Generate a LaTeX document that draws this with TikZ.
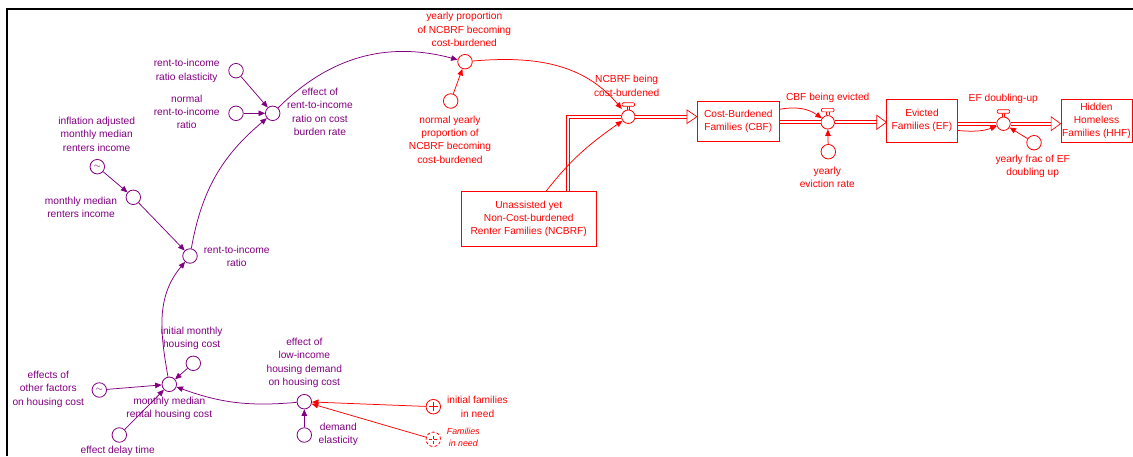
\documentclass[tikz,border=0pt]{standalone}
\usepackage{fontspec}
\setmainfont{Liberation Sans}
\usetikzlibrary{arrows.meta}
\definecolor{vpurple}{RGB}{128,0,128}
\definecolor{vred}{RGB}{255,0,0}

\begin{document}
\begin{tikzpicture}[x=1pt,y=1pt,
  font=\fontsize{10.2}{13.3}\selectfont,
  aux/.style={circle,draw,fill=white,minimum size=14.5pt,inner sep=0pt,line width=0.8pt},
  lookup/.style={aux},
  plusaux/.style={aux,path picture={
      \draw[line width=0.8pt] ([xshift=-4.5pt]path picture bounding box.center) -- ([xshift=4.5pt]path picture bounding box.center);
      \draw[line width=0.8pt] ([yshift=-4.5pt]path picture bounding box.center) -- ([yshift=4.5pt]path picture bounding box.center);}},
  ghost/.style={plusaux,densely dashed},
  valve/.style={circle,draw=vred,fill=white,minimum size=13.5pt,inner sep=0pt,line width=0.8pt},
  stock/.style={rectangle,draw=vred,text=vred,align=center,inner sep=1pt,line width=0.8pt},
  lbl/.style={align=center,inner sep=0pt},
  link/.style={line width=0.75pt,-{Triangle[length=6.5pt,width=5.5pt]}},
  pipe/.style={draw=white,line width=2.2pt,preaction={draw=vred,line width=3.8pt}},
  pipehead/.style={draw=vred,fill=white,line width=0.7pt,line join=miter},
]
\useasboundingbox (0,0) rectangle (1133,-456);

% frame
\draw[line width=2pt] (7,-456) -- (7,-9) -- (1133,-9);

% ---------------- stocks ----------------
\node[stock,minimum width=135.3pt,minimum height=54.6pt] (ncbrf) at (528.7,-219)
  {Unassisted yet\\Non-Cost-burdened\\Renter Families (NCBRF)};
\node[stock,minimum width=82pt,minimum height=39.3pt] (cbf) at (738.3,-121.3)
  {Cost-Burdened\\Families (CBF)};
\node[stock,minimum width=70.6pt,minimum height=42.7pt] (ef) at (922,-120.7)
  {Evicted\\Families (EF)};
\node[stock,minimum width=71pt,minimum height=43.4pt,inner sep=0pt] (hhf) at (1096.5,-121)
  {Hidden\\Homeless\\Families (HHF)};

% ---------------- valves ----------------
\node[valve] (v1) at (628.3,-116.7) {};
\node[valve] (v2) at (827.7,-122.3) {};
\node[valve] (v3) at (1003.5,-123.7) {};

% ---------------- flow pipes ----------------
\coordinate (tip1) at (cbf.west |- v1);
\coordinate (tip2) at (ef.west |- v2);
\coordinate (tip3) at (hhf.west |- v3);
\draw[pipe] ([xshift=39pt]ncbrf.north) |- (v1.west);
\draw[pipe] (v1.east) -- ([xshift=-10pt]tip1);
\draw[pipehead] ([xshift=-10pt,yshift=6.8pt]tip1) -- (tip1) -- ([xshift=-10pt,yshift=-6.8pt]tip1) -- cycle;
\draw[pipe] (cbf.east |- v2) -- (v2.west);
\draw[pipe] (v2.east) -- ([xshift=-9.5pt]tip2);
\draw[pipehead] ([xshift=-9.5pt,yshift=7pt]tip2) -- (tip2) -- ([xshift=-9.5pt,yshift=-7pt]tip2) -- cycle;
\draw[pipe] (ef.east |- v3) -- (v3.west);
\draw[pipe] (v3.east) -- ([xshift=-9.5pt]tip3);
\draw[pipehead] ([xshift=-9.5pt,yshift=6.9pt]tip3) -- (tip3) -- ([xshift=-9.5pt,yshift=-6.9pt]tip3) -- cycle;

% valve handles
\foreach \v in {v1,v2,v3}{
  \draw[vred,line width=0.7pt] ([xshift=-1.3pt]\v.north) -- ++(0,3.3) ([xshift=1.3pt]\v.north) -- ++(0,3.3);
  \draw[vred,line width=0.7pt,fill=white,rounded corners=1pt]
    ([xshift=-6.2pt,yshift=3.3pt]\v.north) rectangle ([xshift=6.2pt,yshift=6.8pt]\v.north);
}

% ---------------- purple auxiliaries ----------------
\begin{scope}[vpurple]
\node[aux] (rie) at (236,-70.7) {};
\node[aux] (nrr) at (236,-113.3) {};
\node[aux] (erc) at (272.7,-113.3) {};
\node[lookup] (iami) at (97.3,-166.7) {\raisebox{-2.2pt}{\fontsize{9}{9}\selectfont$\sim$}};
\node[aux] (mmri) at (133.3,-197.3) {};
\node[aux] (rir) at (190,-256) {};
\node[aux] (imhc) at (193.3,-363.3) {};
\node[aux] (mmrc) at (169.3,-384.3) {};
\node[lookup] (eof) at (99.3,-390) {\raisebox{-2.2pt}{\fontsize{9}{9}\selectfont$\sim$}};
\node[aux] (edt) at (119.3,-435) {};
\node[aux] (elid) at (304.3,-401.7) {};
\node[aux] (de) at (304.3,-435) {};

\node[lbl] (t-rie) at (186.7,-70.8) {rent-to-income\\ratio elasticity};
\node[lbl] (t-nrr) at (186.7,-112) {normal\\rent-to-income\\ratio};
\node[lbl] (t-erc) at (320,-111.9) {effect of\\rent-to-income\\ratio on cost\\burden rate};
\node[lbl] (t-iami) at (96.7,-134.1) {inflation adjusted\\monthly median\\renters income};
\node[lbl] (t-mmri) at (81,-207.2) {monthly median\\renters income};
\node[lbl] (t-rir) at (236.7,-256) {rent-to-income\\ratio};
\node[lbl] (t-imhc) at (191.7,-338.2) {initial monthly\\housing cost};
\node[lbl] (t-eof) at (48.3,-389.3) {effects of\\other factors\\on housing cost};
\node[lbl] (t-mmrc) at (169.3,-408.7) {monthly median\\rental housing cost};
\node[lbl] (t-edt) at (117.7,-451) {effect delay time};
\node[lbl] (t-elid) at (304.3,-363) {effect of\\low-income\\housing demand\\on housing cost};
\node[lbl] (t-de) at (338.3,-434.5) {demand\\elasticity};
\end{scope}

% ---------------- red auxiliaries ----------------
\begin{scope}[vred]
\node[plusaux] (ifn) at (433.3,-406.7) {};
\node[ghost] (fin) at (433.3,-439.3) {};
\node[aux] (ypc) at (465,-61.7) {};
\node[aux] (nyp) at (450.7,-101) {};
\node[aux] (yer) at (828.3,-151.7) {};
\node[aux] (yfe) at (1034,-142.7) {};

\node[lbl] (t-ifn) at (477.5,-406.7) {initial families\\in need};
\node[lbl,font=\fontsize{8.8}{12}\selectfont\itshape] (t-fin) at (463.3,-437.7) {Families\\in need};
\node[lbl] (t-ypc) at (464.3,-29.5) {yearly proportion\\of NCBRF becoming\\cost-burdened};
\node[lbl] (t-nyp) at (450,-139.4) {normal yearly\\proportion of\\NCBRF becoming\\cost-burdened};
\node[lbl] (t-v1) at (626.7,-85.7) {NCBRF being\\cost-burdened};
\node[lbl] (t-v2) at (827.7,-98.3) {CBF being evicted};
\node[lbl] (t-yer) at (827.3,-177.3) {yearly\\eviction rate};
\node[lbl] (t-v3) at (1003.3,-98.7) {EF doubling-up};
\node[lbl] (t-yfe) at (1032.7,-166.7) {yearly frac of EF\\doubling up};
\end{scope}

% ---------------- purple links ----------------
\begin{scope}[vpurple]
\draw[link] (rie) -- (erc);
\draw[link] (nrr) -- (erc);
\draw[link] (iami) -- (mmri);
\draw[link] (mmri) -- (rir);
\draw[link] (rir) to[out=80,in=220] (erc);
\draw[link] (erc) to[out=45,in=165] (ypc);
\draw[link] (mmrc) to[out=100,in=230] (rir);
\draw[link] (imhc) -- (mmrc);
\draw[link] (eof) -- (mmrc);
\draw[link] (edt) -- (mmrc);
\draw[link] (elid) to[out=185,in=340] (mmrc);
\draw[link] (de) -- (elid);
\end{scope}

% ---------------- red links ----------------
\begin{scope}[vred]
\draw[link] (ifn) -- (elid);
\draw[link] (fin) -- (elid);
\draw[link] (nyp) -- (ypc);
\draw[link,shorten >=3pt] (ypc) to[out=5,in=130] (v1);
\draw[link] ([xshift=17.3pt]ncbrf.north) to[out=52,in=215] (v1);
\draw[link] ([yshift=-8pt]cbf.north east) to[out=10,in=145] (v2);
\draw[link] ([yshift=12pt]ef.south east) to[out=-5,in=200] (v3);
\draw[link] (yer) -- (v2);
\draw[link] (yfe) -- (v3);
\end{scope}
\end{tikzpicture}
\end{document}
